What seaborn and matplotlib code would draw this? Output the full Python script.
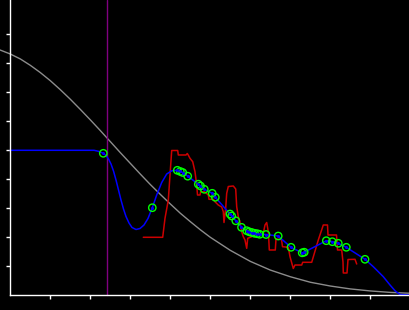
import matplotlib
matplotlib.use("Agg")
import matplotlib.pyplot as plt
import numpy as np
import pandas as pd
import seaborn as sns

# ---- data ----
gray_x = [-0.26, 0.0, 0.25, 0.5, 0.75, 1.0, 1.25, 1.5, 1.75, 2.0, 2.25, 2.5,
          2.75, 3.0, 3.25, 3.5, 3.75, 4.0, 4.25, 4.5, 4.75, 5.0, 5.5,
          6.0, 6.5, 7.0, 7.5, 8.0, 8.5, 9.0, 9.5, 10.0]
gray_y = [8.45, 8.31, 8.14, 7.92, 7.67, 7.39, 7.08, 6.75, 6.40, 6.04, 5.67,
          5.29, 4.91, 4.54, 4.17, 3.81, 3.47, 3.14, 2.82, 2.53, 2.25,
          1.99, 1.54, 1.16, 0.86, 0.63, 0.44, 0.31, 0.21, 0.14, 0.09, 0.06]

vline_x = 2.425

blue_x = [0.0, 2.0925, 2.1925, 2.3925, 2.455, 2.5175, 2.58, 2.6425, 2.705,
          2.7675, 2.83, 2.8925, 2.9675, 3.0425, 3.1425, 3.2425, 3.3425, 3.4425,
          3.66, 3.785, 3.91, 4.035,
          9.075, 9.325, 9.4925, 9.6175, 9.7425, 9.9925]
blue_y = [4.99, 4.99, 4.959, 4.81, 4.69, 4.517, 4.276, 3.966, 3.621,
          3.276, 2.966, 2.707, 2.483, 2.328, 2.259, 2.293, 2.414, 2.638,
          3.448, 3.879, 4.172, 4.283,
          0.976, 0.631, 0.345, 0.148, 0.017, 0.0]

pts_x = [2.325, 3.55, 4.175, 4.25, 4.31, 4.435, 4.70, 4.755, 4.85, 5.0475,
         5.125, 5.4925, 5.535, 5.6375, 5.78, 5.91, 5.9725, 6.0375, 6.105,
         6.1725, 6.235, 6.3925, 6.6975, 7.0175, 7.2975, 7.3475, 7.90, 8.05,
         8.20, 8.40, 8.8675]
pts_y = [4.886, 3.010, 4.300, 4.259, 4.224, 4.097, 3.821, 3.759, 3.645, 3.507,
         3.369, 2.793, 2.724, 2.559, 2.334, 2.217, 2.179, 2.155, 2.128,
         2.114, 2.093, 2.086, 2.034, 1.645, 1.455, 1.476, 1.872, 1.838,
         1.783, 1.645, 1.231]

red_x = [3.325, 3.81, 3.8675, 3.95, 4.035, 4.185, 4.20, 4.3925, 4.425, 4.455,
         4.4925, 4.56, 4.6175, 4.66, 4.68, 4.7425, 4.76, 4.855, 4.95, 4.9675,
         5.075, 5.1175, 5.20, 5.285, 5.325, 5.3425, 5.385, 5.41, 5.45, 5.575,
         5.635, 5.66, 5.70, 5.7425, 5.785, 5.825, 5.8675, 5.91, 5.935, 6.035,
         6.1175, 6.325, 6.3675, 6.41, 6.435, 6.455, 6.475, 6.625, 6.6425, 6.78,
         6.805, 6.95, 6.9925, 7.075, 7.1175, 7.285, 7.31, 7.535, 7.70, 7.825,
         7.93, 7.9425, 8.155, 8.18, 8.285, 8.3175, 8.325, 8.4175, 8.4425,
         8.6175, 8.66]
red_y = [1.990, 1.990, 2.645, 3.276, 4.983, 4.983, 4.828, 4.828, 4.879, 4.810,
         4.714, 4.597, 4.252, 3.793, 3.448, 3.448, 3.562, 3.562, 3.448, 3.300,
         3.300, 3.217, 3.103, 3.034, 2.872, 2.500, 2.990, 3.507, 3.741, 3.759,
         3.655, 3.045, 2.700, 2.517, 2.183, 2.010, 1.897, 1.610, 1.955, 2.010,
         2.103, 2.128, 2.414, 2.500, 2.300, 2.128, 1.552, 1.552, 1.931, 1.914,
         1.666, 1.645, 1.321, 0.914, 1.034, 1.034, 1.128, 1.128, 1.897, 2.414,
         2.414, 2.069, 2.069, 1.552, 1.552, 1.138, 0.759, 0.759, 1.224,
         1.231, 1.069]

tick_vals = [1, 2, 3, 4, 5, 6, 7, 8, 9]

# ---- figure ----
sns.set_style("dark")
plt.rcParams["font.family"] = ["DejaVu Sans"]

XMIN, XMAX = -0.2575, 9.9925
YMIN, YMAX = -0.517, 10.172

fig = plt.figure(figsize=(4.1, 3.1), dpi=100, facecolor="black")
ax = fig.add_axes([0, 0, 1, 1])
ax.set_facecolor("black")
ax.grid(False)

blue_df = pd.DataFrame({"x": list(blue_x) + list(pts_x),
                        "y": list(blue_y) + list(pts_y)}).sort_values("x")

sns.lineplot(x=gray_x, y=gray_y, sort=False, estimator=None, color="#8c8c8c",
             lw=1.0, ax=ax)
ax.plot([vline_x, vline_x], [0, YMAX], color="#800080", lw=1.0)
sns.lineplot(x=red_x, y=red_y, sort=False, estimator=None, color="#cc0000",
             lw=1.1, ax=ax)
sns.lineplot(data=blue_df, x="x", y="y", sort=False, estimator=None,
             color="#0000ff", lw=1.1, ax=ax)
sns.scatterplot(x=pts_x, y=pts_y, marker="o", s=28, facecolors="none",
                edgecolors="#00ff00", linewidths=1.0, ax=ax, zorder=5)
ax.scatter(pts_x, pts_y, s=1.5, color="#0000ff", zorder=6)

ax.set_xlim(XMIN, XMAX)
ax.set_ylim(YMIN, YMAX)
for side in ("top", "right"):
    ax.spines[side].set_visible(False)
for side in ("left", "bottom"):
    ax.spines[side].set_position(("data", 0))
    ax.spines[side].set_color("white")
    ax.spines[side].set_linewidth(1.0)
ax.spines["bottom"].set_bounds(0, XMAX)
ax.spines["left"].set_bounds(0, YMAX)
ax.set_xticks(tick_vals)
ax.set_yticks(tick_vals)
ax.set_xticklabels([])
ax.set_yticklabels([])
ax.tick_params(axis="both", colors="white", direction="out", length=3,
               width=1, bottom=True, left=True)
ax.set_xlabel("")
ax.set_ylabel("")

fig.savefig("out.png", dpi=100, facecolor="black")
